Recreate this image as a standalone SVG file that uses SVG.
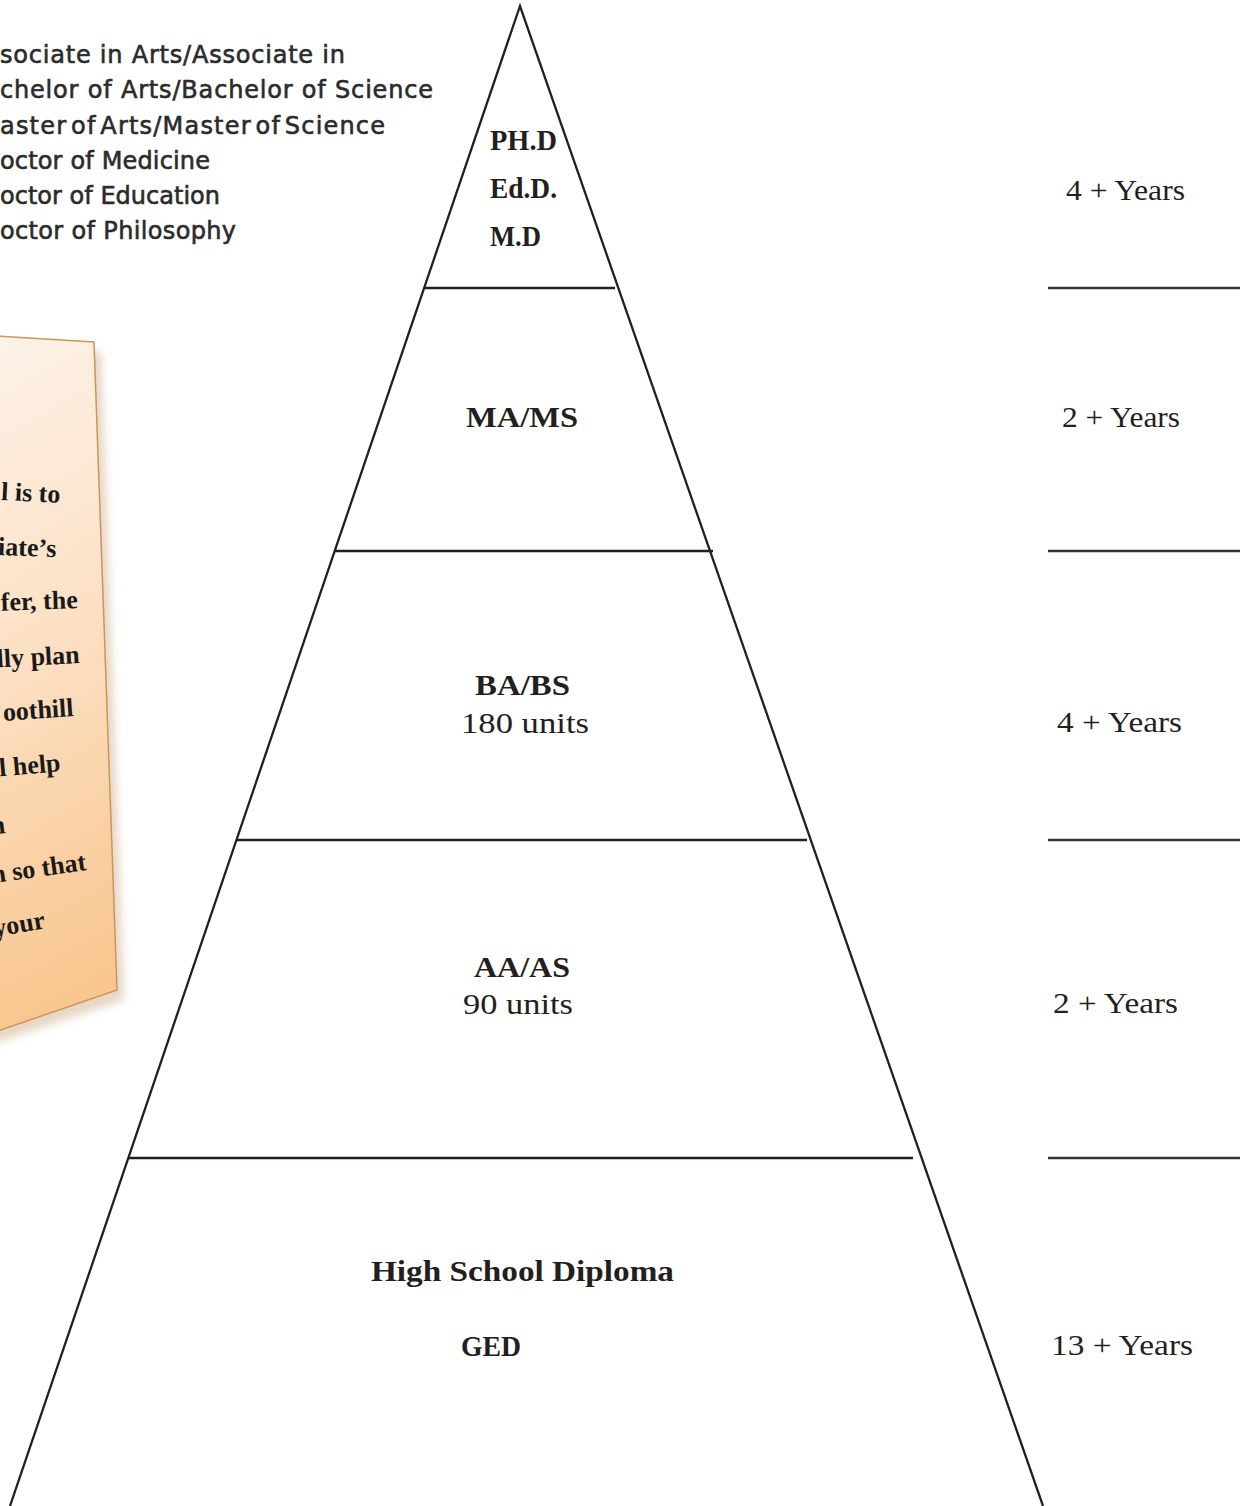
<svg xmlns="http://www.w3.org/2000/svg" width="1249" height="1506" viewBox="0 0 1249 1506">
<defs>
<linearGradient id="cardGrad" x1="0" y1="0" x2="0.1" y2="1">
<stop offset="0" stop-color="#fdf2e8"/>
<stop offset="0.5" stop-color="#fcdfc2"/>
<stop offset="1" stop-color="#f8c68e"/>
</linearGradient>
<filter id="blur" x="-20%" y="-20%" width="140%" height="140%"><feGaussianBlur stdDeviation="4"/></filter>
</defs>
<style>
.deg{font-family:"DejaVu Sans","Liberation Sans",sans-serif;font-size:24px;fill:#2b2b2b;stroke:#2b2b2b;stroke-width:0.6}
.card{font-family:"Liberation Serif",serif;font-weight:bold;font-size:26px;fill:#1a1a1a}
.lb{font-family:"Liberation Serif",serif;font-weight:bold;font-size:29px;fill:#231f20}
.lr{font-family:"Liberation Serif",serif;font-size:30px;fill:#231f20}
.yr{font-family:"Liberation Serif",serif;font-size:30px;fill:#231f20}
.edge{stroke:#231f20;stroke-width:2.3;fill:none}
.div{stroke:#333;stroke-width:2.6}
</style>
<rect width="1249" height="1506" fill="#fff"/>

<g id="degree-list">
<text class="deg" x="345" y="63" text-anchor="end" textLength="345" lengthAdjust="spacing">sociate in Arts/Associate in</text>
<text class="deg" x="433" y="98" text-anchor="end" textLength="433" lengthAdjust="spacing">chelor of Arts/Bachelor of Science</text>
<text class="deg" x="385" y="134" text-anchor="end" textLength="385" lengthAdjust="spacing" word-spacing="-5">aster of Arts/Master of Science</text>
<text class="deg" x="210" y="169" text-anchor="end" textLength="210" lengthAdjust="spacing">octor of Medicine</text>
<text class="deg" x="220" y="204" text-anchor="end" textLength="220" lengthAdjust="spacing">octor of Education</text>
<text class="deg" x="236" y="239" text-anchor="end" textLength="236" lengthAdjust="spacing">octor of Philosophy</text>
</g>

<g id="note-card">
<polygon points="-10,347 101,352 124,1000 -10,1045" fill="#b07a40" opacity="0.3" filter="url(#blur)"/>
<polygon points="-5,336 94,342 117,990 -5,1032" fill="url(#cardGrad)" stroke="#cf9456" stroke-width="1.5"/>
<text class="card" x="60" y="503" text-anchor="end" transform="rotate(3 60 503)">l is to</text>
<text class="card" x="56" y="557" text-anchor="end" transform="rotate(2 56 557)">iate’s</text>
<text class="card" x="78" y="608" text-anchor="end" transform="rotate(-2 78 608)">fer, the</text>
<text class="card" x="80" y="663" text-anchor="end" transform="rotate(-3 80 663)">lly plan</text>
<text class="card" x="74" y="716" text-anchor="end" transform="rotate(-4 74 716)">oothill</text>
<text class="card" x="61" y="771" text-anchor="end" transform="rotate(-5 61 771)">l help</text>
<text class="card" x="6" y="833" text-anchor="end" transform="rotate(-6 6 833)">n</text>
<text class="card" x="87" y="870" text-anchor="end" transform="rotate(-8 87 870)">n so that</text>
<text class="card" x="46" y="928" text-anchor="end" transform="rotate(-10 46 928)">your</text>
</g>

<g id="pyramid">
<polyline class="edge" points="10,1506 520,6 1043,1506"/>
</g>

<g id="connectors">
<line class="edge" x1="425" y1="288" x2="615" y2="288"/>
<line class="edge" x1="335" y1="551" x2="713" y2="551"/>
<line class="edge" x1="237" y1="840" x2="807" y2="840"/>
<line class="edge" x1="128" y1="1158" x2="913" y2="1158"/>
<line class="div" x1="1048" y1="288" x2="1240" y2="288"/>
<line class="div" x1="1048" y1="551" x2="1240" y2="551"/>
<line class="div" x1="1048" y1="840" x2="1240" y2="840"/>
<line class="div" x1="1048" y1="1158" x2="1240" y2="1158"/>
</g>

<g id="tier-doctorate">
<text class="lb" x="490" y="150" textLength="67" lengthAdjust="spacingAndGlyphs">PH.D</text>
<text class="lb" x="490" y="198" textLength="67" lengthAdjust="spacingAndGlyphs">Ed.D.</text>
<text class="lb" x="490" y="246" textLength="51" lengthAdjust="spacingAndGlyphs">M.D</text>
<text class="yr" x="1066" y="200" textLength="119" lengthAdjust="spacingAndGlyphs">4 + Years</text>
</g>

<g id="tier-masters">
<text class="lb" x="466" y="427" textLength="112" lengthAdjust="spacingAndGlyphs">MA/MS</text>
<text class="yr" x="1062" y="427" textLength="118" lengthAdjust="spacingAndGlyphs">2 + Years</text>
</g>

<g id="tier-bachelors">
<text class="lb" x="475" y="695" textLength="95" lengthAdjust="spacingAndGlyphs">BA/BS</text>
<text class="lr" x="461" y="733" textLength="128" lengthAdjust="spacingAndGlyphs">180 units</text>
<text class="yr" x="1057" y="732" textLength="125" lengthAdjust="spacingAndGlyphs">4 + Years</text>
</g>

<g id="tier-associate">
<text class="lb" x="474" y="977" textLength="96" lengthAdjust="spacingAndGlyphs">AA/AS</text>
<text class="lr" x="463" y="1014" textLength="110" lengthAdjust="spacingAndGlyphs">90 units</text>
<text class="yr" x="1053" y="1013" textLength="125" lengthAdjust="spacingAndGlyphs">2 + Years</text>
</g>

<g id="tier-highschool">
<text class="lb" x="371" y="1281" textLength="303" lengthAdjust="spacingAndGlyphs">High School Diploma</text>
<text class="lb" x="461" y="1356" textLength="60" lengthAdjust="spacingAndGlyphs">GED</text>
<text class="yr" x="1051" y="1355" textLength="142" lengthAdjust="spacingAndGlyphs">13 + Years</text>
</g>
</svg>
